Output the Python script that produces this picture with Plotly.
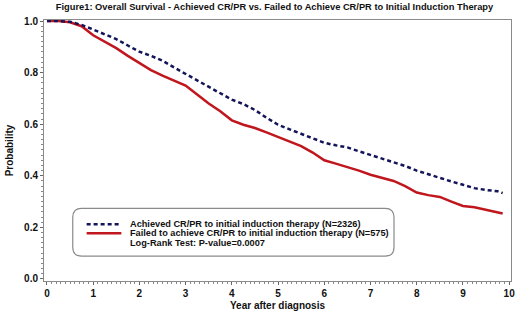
import plotly.graph_objects as go

# ---- data ----
years = [0, 0.25, 0.5, 0.75, 1.0, 1.25, 1.5, 1.75, 2.0, 2.25, 2.5, 2.75, 3.0, 3.25, 3.5,
         3.75, 4.0, 4.25, 4.5, 4.75, 5.0, 5.25, 5.5, 5.75, 6.0, 6.25, 6.5, 6.75, 7.0,
         7.25, 7.5, 7.75, 8.0, 8.25, 8.5, 8.75, 9.0, 9.25, 9.5, 9.75, 9.86]
achieved = [1.0, 1.0, 0.997, 0.985, 0.967, 0.95, 0.93, 0.905, 0.881, 0.865, 0.846, 0.82,
            0.795, 0.77, 0.744, 0.72, 0.695, 0.678, 0.655, 0.625, 0.598, 0.58, 0.563,
            0.545, 0.528, 0.518, 0.51, 0.495, 0.481, 0.468, 0.452, 0.438, 0.42, 0.405,
            0.39, 0.378, 0.365, 0.352, 0.345, 0.34, 0.333]
failed = [1.0, 1.0, 0.995, 0.98, 0.945, 0.92, 0.895, 0.865, 0.838, 0.81, 0.788, 0.77,
          0.75, 0.715, 0.68, 0.65, 0.615, 0.598, 0.585, 0.568, 0.551, 0.535, 0.515,
          0.49, 0.46, 0.447, 0.435, 0.42, 0.404, 0.392, 0.38, 0.36, 0.335, 0.325,
          0.318, 0.3, 0.283, 0.278, 0.268, 0.26, 0.254]
x_ticks = [0, 1, 2, 3, 4, 5, 6, 7, 8, 9, 10]
y_ticks = [0.0, 0.2, 0.4, 0.6, 0.8, 1.0]

name_a = "Achieved CR/PR to initial induction therapy (N=2326)"
name_f = "Failed to achieve CR/PR to initial induction therapy (N=575)"
logrank = "Log-Rank Test: P-value=0.0007"
title = "Figure1: Overall Survival - Achieved CR/PR vs. Failed to Achieve CR/PR to Initial Induction Therapy"

BLUE = "#14145a"
RED = "#c0161e"
FONT = "Liberation Sans"

W, H = 520, 314
ML, MR, MT, MB = 44, 5, 20, 32
PW, PH = W - ML - MR, H - MT - MB


def px(x):
    return (x - ML) / PW


def py(y):
    return (H - MB - y) / PH


fig = go.Figure()
fig.add_trace(go.Scatter(x=years, y=failed, mode="lines",
                         line=dict(color=RED, width=2.5), name=name_f, showlegend=False))
fig.add_trace(go.Scatter(x=years, y=achieved, mode="lines",
                         line=dict(color=BLUE, width=2.5, dash="4px,3px"), name=name_a,
                         showlegend=False))

# legend box with rounded corners
x0, x1, y0, y1, r = 73, 397, 209, 257, 9
rx, ry = r / PW, r / PH
X0, X1, Y0, Y1 = px(x0), px(x1), py(y1), py(y0)
path = (f"M {X0+rx},{Y0} L {X1-rx},{Y0} Q {X1},{Y0} {X1},{Y0+ry} "
        f"L {X1},{Y1-ry} Q {X1},{Y1} {X1-rx},{Y1} L {X0+rx},{Y1} "
        f"Q {X0},{Y1} {X0},{Y1-ry} L {X0},{Y0+ry} Q {X0},{Y0} {X0+rx},{Y0} Z")
shapes = [dict(type="path", path=path, xref="paper", yref="paper",
               line=dict(color="#8a8a8a", width=1.2), fillcolor="white", layer="above"),
          dict(type="line", xref="paper", yref="paper", x0=px(87), x1=px(122),
               y0=py(225), y1=py(225), line=dict(color=BLUE, width=2.5, dash="4px,3px")),
          dict(type="line", xref="paper", yref="paper", x0=px(87), x1=px(122),
               y0=py(234), y1=py(234), line=dict(color=RED, width=2.5))]

annos = []
for txt, yy in [(name_a, 225), (name_f, 234), (logrank, 244)]:
    annos.append(dict(text="<b>%s</b>" % txt, xref="paper", yref="paper", x=px(129), y=py(yy),
                      xanchor="left", yanchor="middle", showarrow=False,
                      font=dict(family=FONT, size=9.2, color="#111")))

fig.update_layout(
    width=W, height=H, margin=dict(l=ML, r=MR, t=MT, b=MB),
    paper_bgcolor="white", plot_bgcolor="white",
    title=dict(text="<b>%s</b>" % title, x=274.5 / W, xref="container", xanchor="center",
               y=1 - 7 / H, yanchor="middle",
               font=dict(family=FONT, size=9.3, color="#111")),
    shapes=shapes, annotations=annos,
    xaxis=dict(range=[-0.064, 10.04], tickvals=x_ticks, ticktext=["<b>%d</b>" % v for v in x_ticks],
               showgrid=False, zeroline=False, showline=True, linecolor="#8a8a8a", linewidth=1,
               mirror=True, ticks="outside", ticklen=3, tickcolor="#666",
               minor=dict(dtick=0.1, ticks="outside", ticklen=2, tickcolor="#888"),
               tickfont=dict(family=FONT, size=10, color="#111"),
               title=dict(text="<b>Year after diagnosis</b>", standoff=3,
                          font=dict(family=FONT, size=10, color="#111"))),
    yaxis=dict(range=[-0.008, 1.004], tickvals=y_ticks, ticktext=["<b>%.1f</b>" % v for v in y_ticks],
               showgrid=False, zeroline=False, showline=True, linecolor="#8a8a8a", linewidth=1,
               mirror=True, ticks="outside", ticklen=3, tickcolor="#666",
               minor=dict(dtick=0.02, ticks="outside", ticklen=2, tickcolor="#888"),
               tickfont=dict(family=FONT, size=10, color="#111"),
               title=dict(text="<b>Probability</b>", standoff=8,
                          font=dict(family=FONT, size=10, color="#111"))),
)

fig.write_html("out.html", config={"displayModeBar": False},
               post_script="document.body.style.margin='0';document.body.style.overflow='hidden';")
